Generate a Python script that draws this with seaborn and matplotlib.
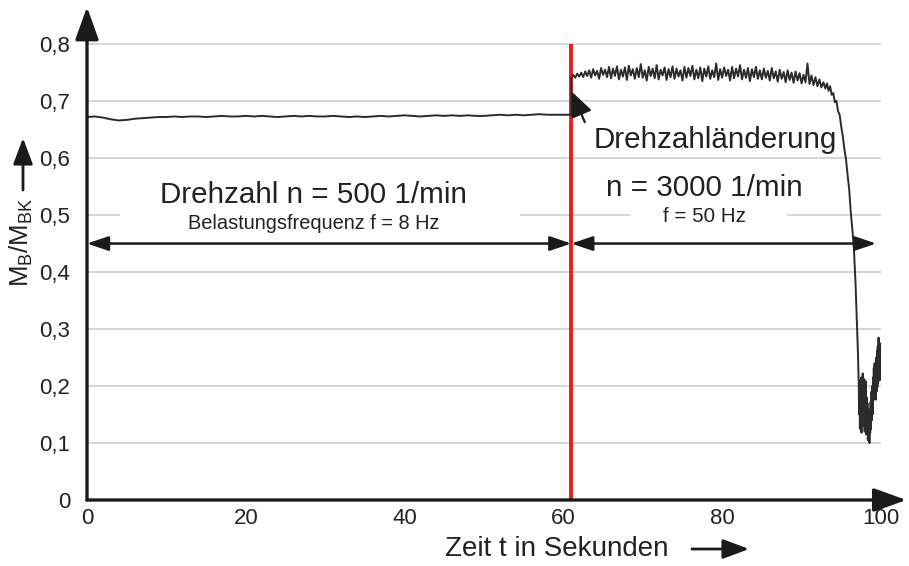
import matplotlib
matplotlib.use("Agg")
import matplotlib.pyplot as plt
from matplotlib.patches import Rectangle
import numpy as np
import pandas as pd
import seaborn as sns

# --- data --------------------------------------------------------------------
# 500 1/min phase, one sample per second
t_low = list(range(0, 62))
m_low = [0.672, 0.673, 0.671, 0.668, 0.666, 0.667, 0.669, 0.670, 0.671, 0.672,
         0.672, 0.673, 0.672, 0.673, 0.673, 0.672, 0.673, 0.674, 0.673, 0.673,
         0.674, 0.673, 0.674, 0.673, 0.672, 0.673, 0.674, 0.673, 0.674, 0.673,
         0.673, 0.674, 0.673, 0.672, 0.673, 0.672, 0.673, 0.674, 0.673, 0.674,
         0.675, 0.674, 0.673, 0.674, 0.675, 0.674, 0.675, 0.674, 0.675, 0.674,
         0.674, 0.675, 0.676, 0.675, 0.676, 0.675, 0.676, 0.677, 0.676, 0.676,
         0.676, 0.676]

# 3000 1/min phase, samples every 0.25 s from 61 s to 93 s
t_high_start, t_high_step = 61.0, 0.25
m_high = [0.740, 0.746, 0.741, 0.748, 0.743,
          0.750, 0.742, 0.752, 0.744, 0.754, 0.741, 0.756, 0.745, 0.753, 0.739,
          0.758, 0.746, 0.755, 0.742, 0.760,
          0.740, 0.757, 0.744, 0.761, 0.738, 0.755, 0.743, 0.759, 0.737, 0.762,
          0.745, 0.756, 0.739, 0.758, 0.742, 0.765, 0.741, 0.754, 0.736, 0.760,
          0.744, 0.757, 0.740, 0.763, 0.738, 0.755, 0.745, 0.759, 0.737, 0.756,
          0.742, 0.761, 0.739, 0.757, 0.743, 0.754, 0.736, 0.760, 0.741, 0.758,
          0.744, 0.762, 0.738, 0.755, 0.740, 0.759, 0.735, 0.757, 0.743, 0.761,
          0.739, 0.754, 0.742, 0.766, 0.737, 0.756, 0.741, 0.759, 0.744, 0.755,
          0.736, 0.760, 0.740, 0.757, 0.743, 0.763, 0.738, 0.755, 0.741, 0.758,
          0.735, 0.756, 0.742, 0.760, 0.739, 0.754,
          0.738, 0.757, 0.741, 0.753, 0.736, 0.758, 0.740, 0.752, 0.734, 0.755,
          0.739, 0.751, 0.733, 0.754, 0.737, 0.750, 0.732, 0.752, 0.736,
          0.749, 0.731, 0.746, 0.733, 0.766, 0.730, 0.745, 0.728, 0.742, 0.726,
          0.738, 0.724, 0.733, 0.722]

# breakdown and the noisy tail
t_drop = [93.2, 93.4, 93.6, 93.8, 94.0, 94.2, 94.4, 94.6, 94.8, 95.0, 95.2,
          95.4, 95.6, 95.8, 96.0, 96.2, 96.4, 96.6, 96.8, 96.95, 97.1, 97.2,
          97.25, 97.3, 97.35, 97.4, 97.45, 97.5, 97.55, 97.6, 97.65, 97.7,
          97.75, 97.8, 97.85, 97.9, 97.95, 98.0, 98.05, 98.1, 98.15, 98.2,
          98.25, 98.3, 98.35, 98.4, 98.45, 98.5, 98.55, 98.6, 98.65, 98.7,
          98.75, 98.8, 98.85, 98.9, 98.95, 99.0, 99.05, 99.1, 99.15, 99.2,
          99.25, 99.3, 99.35, 99.4, 99.45, 99.5, 99.55, 99.6, 99.65, 99.7,
          99.75, 99.8, 99.85, 99.9]
m_drop = [0.731, 0.718, 0.726, 0.711, 0.714, 0.698, 0.700, 0.682, 0.676, 0.655,
          0.638, 0.615, 0.598, 0.570, 0.545, 0.505, 0.475, 0.440, 0.380, 0.320,
          0.260, 0.205,
          0.150, 0.210, 0.125, 0.200, 0.140, 0.215, 0.118, 0.190, 0.150, 0.222,
          0.130, 0.205, 0.160, 0.212, 0.120, 0.195, 0.150, 0.208, 0.115, 0.180,
          0.130, 0.170, 0.105, 0.160, 0.112, 0.150, 0.100, 0.145, 0.118, 0.172,
          0.125, 0.190, 0.140, 0.200, 0.150, 0.215, 0.175, 0.232, 0.180, 0.240,
          0.185, 0.228, 0.176, 0.250, 0.190, 0.262, 0.198, 0.270, 0.205, 0.285,
          0.215, 0.262, 0.210, 0.275]

t_switch = 61.0
arrow_level = 0.45
x_ticks = [0, 20, 40, 60, 80, 100]
y_ticks = [0, 0.1, 0.2, 0.3, 0.4, 0.5, 0.6, 0.7, 0.8]
y_tick_labels = ["0", "0,1", "0,2", "0,3", "0,4", "0,5", "0,6", "0,7", "0,8"]

# --- assemble --------------------------------------------------------------
t_high = list(t_high_start + t_high_step * np.arange(len(m_high)))
df = pd.DataFrame({"t": t_low + t_high + t_drop,
                   "m": m_low + m_high + m_drop})

sns.set_theme(style="white")
plt.rcParams["font.family"] = ["Liberation Sans", "DejaVu Sans"]
ink = "#1a1a1a"
txt = "#222222"

fig = plt.figure(figsize=(9.09, 5.66), dpi=100)
ax = fig.add_axes([0.0957, 0.1166, 0.904, 0.876])
ax.set_xlim(0, 103.5)
ax.set_ylim(0, 0.87)
for s in ax.spines.values():
    s.set_visible(False)

# grid lines only up to t = 100
ax.hlines(y_ticks[1:], -0.8, 100, color="#d2d2d2", lw=1.3, zorder=0)
# white gaps behind the phase labels
ax.add_patch(Rectangle((4.2, 0.49), 50.3, 0.02, fc="white", ec="none", zorder=1))
ax.add_patch(Rectangle((68.4, 0.49), 19.8, 0.02, fc="white", ec="none", zorder=1))

sns.lineplot(data=df, x="t", y="m", sort=False, estimator=None, ax=ax,
             color="#2b2b2b", lw=1.4, zorder=4)

ax.vlines(t_switch, 0, 0.8, color="#e3201b", lw=2.8, zorder=3)

# axes with arrow heads
axis_arrow = dict(arrowstyle="-|>,head_length=1.0,head_width=0.36", color=ink,
                  lw=2.4, mutation_scale=20, shrinkA=0, shrinkB=0)
ax.annotate("", xy=(103.2, 0), xytext=(0, 0), arrowprops=axis_arrow,
            annotation_clip=False, zorder=6)
ax.annotate("", xy=(0, 0.865), xytext=(0, 0), arrowprops=axis_arrow,
            annotation_clip=False, zorder=6)

# phase span arrows
span = dict(arrowstyle="<|-|>,head_length=0.65,head_width=0.22", color=ink,
            lw=1.8, mutation_scale=20, shrinkA=0, shrinkB=0)
ax.annotate("", xy=(0, arrow_level), xytext=(t_switch, arrow_level), arrowprops=span, zorder=5)
ax.annotate("", xy=(t_switch, arrow_level), xytext=(99.4, arrow_level), arrowprops=span, zorder=5)

# pointer to the speed change
ax.annotate("", xy=(61.1, 0.716), xytext=(62.7, 0.663),
            arrowprops=dict(arrowstyle="-|>,head_length=1.0,head_width=0.45", color=ink,
                            lw=1.6, mutation_scale=15, shrinkA=0, shrinkB=0), zorder=5)

ax.text(28.5, 0.535, "Drehzahl n = 500 1/min", fontsize=21.3, ha="center", va="center",
        color=txt, zorder=5)
ax.text(28.6, 0.485, "Belastungsfrequenz f = 8 Hz", fontsize=14.4, ha="center", va="center",
        color=txt, zorder=5)
ax.text(79.1, 0.632, "Drehzahländerung", fontsize=21.3, ha="center", va="center",
        color=txt, zorder=5)
ax.text(77.8, 0.547, "n = 3000 1/min", fontsize=21.3, ha="center", va="center",
        color=txt, zorder=5)
ax.text(77.8, 0.497, "f = 50 Hz", fontsize=14.8, ha="center", va="center",
        color=txt, zorder=5)

ax.set_xticks(x_ticks)
ax.set_xticklabels([str(v) for v in x_ticks], fontsize=16)
ax.set_yticks(y_ticks)
ax.set_yticklabels(y_tick_labels, fontsize=16)
ax.tick_params(axis="both", length=0, colors=txt)
ax.tick_params(axis="y", pad=12)
ax.tick_params(axis="x", pad=6)
ax.set_xlabel("")
ax.set_ylabel("")

# axis titles with their arrows
fig.text(0.024, 0.571, r"$\mathregular{M_B/M_{BK}}$", rotation=90, fontsize=18.5,
         ha="center", va="center", color=txt)
fig.text(557 / 909, 17 / 566, "Zeit t in Sekunden", fontsize=20,
         ha="center", va="center", color=txt)
small_arrow = dict(arrowstyle="-|>,head_length=0.8,head_width=0.3", color=ink,
                   lw=2.0, mutation_scale=20, shrinkA=0, shrinkB=0)
ax.annotate("", xy=(23, 428), xytext=(23, 376), xycoords="figure pixels",
            textcoords="figure pixels", arrowprops=small_arrow, annotation_clip=False)
ax.annotate("", xy=(749, 17), xytext=(692, 17), xycoords="figure pixels",
            textcoords="figure pixels", arrowprops=small_arrow, annotation_clip=False)

fig.savefig("out.png", dpi=100)
